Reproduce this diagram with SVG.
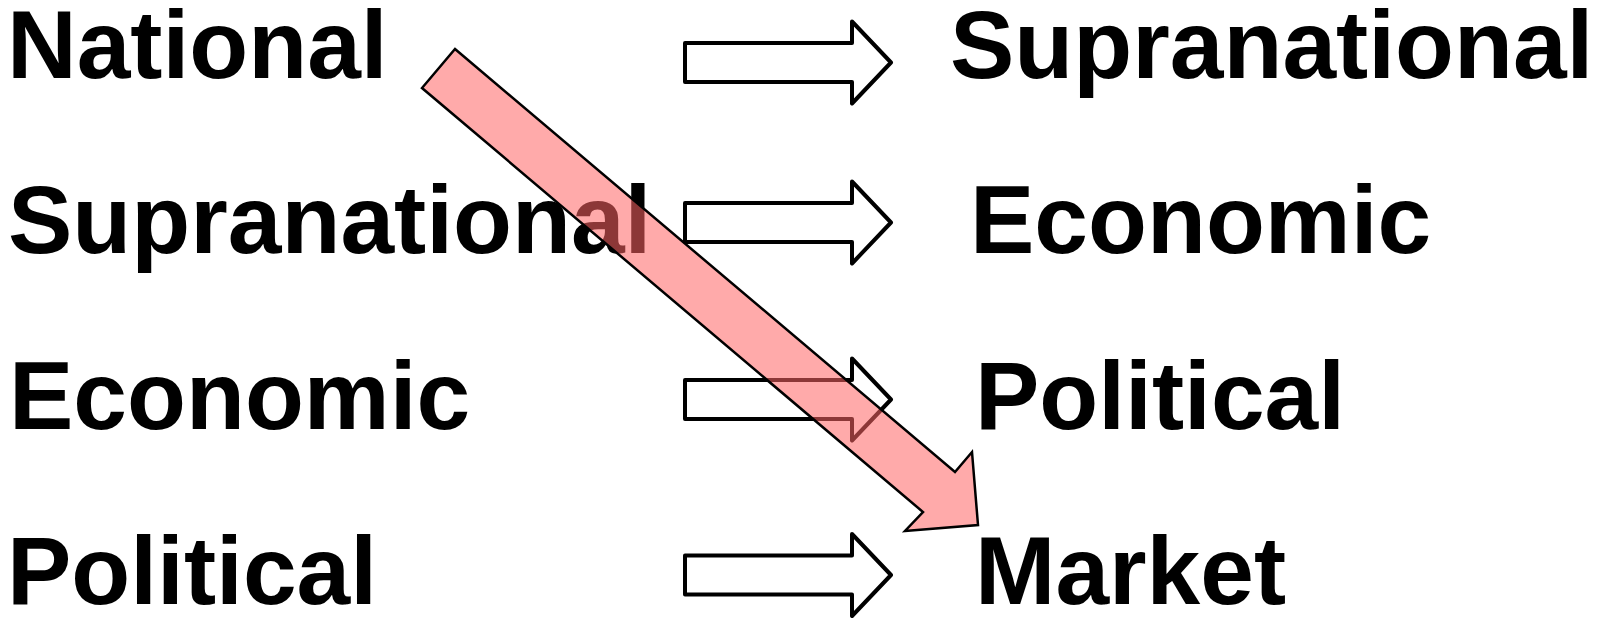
<svg xmlns="http://www.w3.org/2000/svg" width="1605" height="618" viewBox="0 0 1605 618">
<style>
.t{font-family:"Liberation Sans",Arial,sans-serif;font-weight:bold;font-size:96.5px;fill:#000}
.a{fill:#fff;stroke:#000;stroke-width:4;stroke-linejoin:round}
.d{fill:rgb(255,101,101);fill-opacity:0.55;stroke:#000;stroke-width:2.5;stroke-linejoin:miter}
</style>
<defs>
<path id="blk" d="M685,-19.5 H852 V-41 L891,0 L852,41 V19.5 H685 Z"/>
</defs>
<rect width="1605" height="618" fill="#fff"/>
<g id="left-national"><text class="t" x="7" y="78">National</text></g>
<g id="left-supranational"><text class="t" x="8" y="253">Supranational</text></g>
<g id="left-economic"><text class="t" x="9" y="429">Economic</text></g>
<g id="left-political"><text class="t" x="7" y="604">Political</text></g>
<g id="right-supranational"><text class="t" x="950" y="78">Supranational</text></g>
<g id="right-economic"><text class="t" x="970" y="253">Economic</text></g>
<g id="right-political"><text class="t" x="975" y="429">Political</text></g>
<g id="right-market"><text class="t" x="975" y="604">Market</text></g>
<g id="connectors">
<use href="#blk" class="a" transform="translate(0,62.5)"/>
<use href="#blk" class="a" transform="translate(0,222.5)"/>
<use href="#blk" class="a" transform="translate(0,399.5)"/>
<use href="#blk" class="a" transform="translate(0,575)"/>
<path class="d" d="M455,49 L955,472 L972,452 L978,525 L905,531 L923,512 L422,88 Z"/>
</g>
</svg>
